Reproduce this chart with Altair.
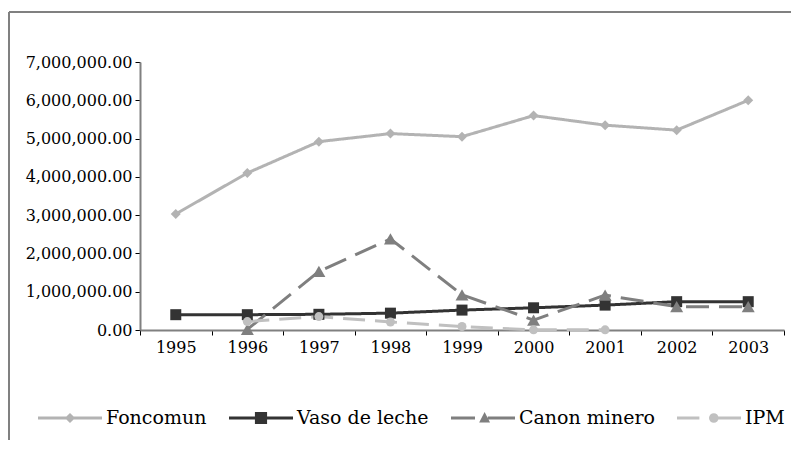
import math
import altair as alt
import pandas as pd

years = ["1995", "1996", "1997", "1998", "1999", "2000", "2001", "2002", "2003"]
series_names = ["Foncomun", "Vaso de leche", "Canon minero", "IPM"]
foncomun = [3030000, 4100000, 4920000, 5130000, 5050000, 5600000, 5350000, 5220000, 6000000]
vaso_de_leche = [400000, 400000, 410000, 440000, 520000, 580000, 650000, 740000, 740000]
canon_minero = [None, 15000, 1530000, 2380000, 920000, 260000, 910000, 610000, 610000]
ipm = [None, 220000, 350000, 210000, 90000, 5000, 5000, None, None]
y_ticks = [0, 1000000, 2000000, 3000000, 4000000, 5000000, 6000000, 7000000]

rows = []
for name, vals in zip(series_names, [foncomun, vaso_de_leche, canon_minero, ipm]):
    for yr, v in zip(years, vals):
        if v is not None:
            rows.append({"year": yr, "series": name, "value": v})
df = pd.DataFrame(rows)

colors = ["#b3b3b3", "#333333", "#7f7f7f", "#c0c0c0"]
dashes = [[1, 0], [1, 0], [23, 10], [22, 10]]
shapes = ["diamond", "square", "triangle-up", "circle"]
sizes = [100, 121, 169, 81]


def seg(a, b, t=0.047):
    return f"M{a},{-t}H{b}V{t}H{a}Z"


def poly(cx, r, n=16):
    pts = [(cx + r * math.cos(2 * math.pi * i / n), r * math.sin(2 * math.pi * i / n)) for i in range(n)]
    return "M" + "L".join(f"{x:.3f},{y:.3f}" for x, y in pts) + "Z"


legend_paths = [
    seg(-1, 1) + "M0,-0.16L0.16,0L0,0.16L-0.16,0Z",
    seg(-1, 1) + "M-0.19,-0.19H0.19V0.19H-0.19Z",
    seg(-1, -0.25) + seg(0.15, 1) + "M0.05,-0.19L0.22,0.14H-0.12Z",
    seg(-1, -0.3) + seg(0.15, 1) + poly(0.15, 0.15),
]

W, H = 644, 268
FONT = "DejaVu Serif"

x_enc = alt.X(
    "year:N",
    scale=alt.Scale(type="band", paddingInner=0, paddingOuter=0),
    bandPosition=0.5,
    sort=years,
    axis=alt.Axis(
        title=None, tickBand="extent", labelAngle=0, domainColor="#808080",
        domainWidth=2, tickColor="#000000", tickSize=5, tickWidth=1,
        labelFont=FONT, labelFontSize=16, labelColor="#000000", labelPadding=4,
    ),
)
y_enc = alt.Y(
    "value:Q",
    scale=alt.Scale(domain=[0, 7000000], nice=False),
    axis=alt.Axis(
        title=None, values=y_ticks, format=",.2f", grid=False,
        domainColor="#808080", domainWidth=2, tickColor="#000000", tickSize=5,
        tickWidth=1, labelFont=FONT, labelFontSize=16, labelColor="#000000",
        labelPadding=3,
    ),
)

leg = alt.Legend(
    title=None, orient="none", legendX=-102, legendY=324, direction="horizontal",
    symbolSize=4096, symbolStrokeWidth=0, symbolOpacity=1, labelOffset=4,
    columnPadding=22, labelFont=FONT, labelFontSize=19, labelColor="#000000",
    labelLimit=300,
)

legend_layer = alt.Chart(df).mark_point(filled=True, size=1, opacity=1).encode(
    x=x_enc,
    y=y_enc,
    color=alt.Color("series:N", scale=alt.Scale(domain=series_names, range=colors), legend=leg),
    shape=alt.Shape("series:N", scale=alt.Scale(domain=series_names, range=legend_paths), legend=leg),
)

layers = [legend_layer]
for name, col, dsh in zip(series_names, colors, dashes):
    layers.append(
        alt.Chart(df).transform_filter(alt.datum.series == name)
        .mark_line(strokeWidth=3, color=col, strokeDash=dsh)
        .encode(x=x_enc, y=y_enc)
    )
for name, shp, sz, col in zip(series_names, shapes, sizes, colors):
    layers.append(
        alt.Chart(df).transform_filter(alt.datum.series == name)
        .mark_point(filled=True, opacity=1, shape=shp, size=sz, color=col)
        .encode(x=x_enc, y=y_enc)
    )

frame_data = alt.Data(values=[{"k": 1}])
layers.append(alt.Chart(frame_data).mark_rule(color="#808080", strokeWidth=2).encode(
    x=alt.value(-131), y=alt.value(-50), y2=alt.value(380)
))
layers.append(alt.Chart(frame_data).mark_rule(color="#808080", strokeWidth=2).encode(
    x=alt.value(-131), x2=alt.value(660), y=alt.value(-50)
))

chart = alt.layer(*layers).properties(
    width=W, height=H,
    autosize=alt.AutoSizeParams(type="none"),
    padding={"left": 132, "top": 54, "right": 7, "bottom": 110},
).configure_view(stroke=None)

chart.save("out.html", embed_options={"renderer": "svg", "actions": False})
